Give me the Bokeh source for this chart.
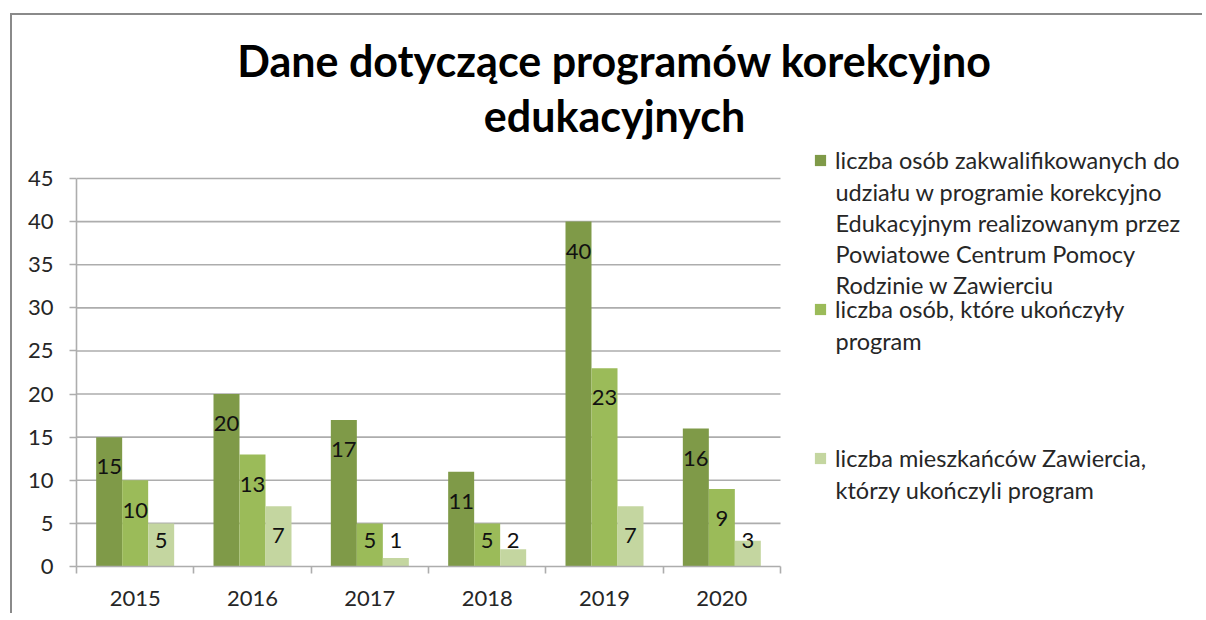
import numpy as np
from bokeh.plotting import figure
from bokeh.models import Range1d, FixedTicker, Label, Legend, LegendItem
from bokeh.embed import file_html
from bokeh.resources import INLINE
from bokeh.core.properties import value

# ---------------- data ----------------
years = ["2015", "2016", "2017", "2018", "2019", "2020"]
zakwalifikowani = [15, 20, 17, 11, 40, 16]
ukonczyli = [10, 13, 5, 5, 23, 9]
mieszkancy_ukonczyli = [5, 7, 1, 2, 7, 3]
y_ticks = [0, 5, 10, 15, 20, 25, 30, 35, 40, 45]
y_max = 45

title_lines = ["Dane dotyczące programów korekcyjno", "edukacyjnych"]
legend_lines = [
    ["liczba osób zakwalifikowanych do",
     "udziału w programie korekcyjno",
     "Edukacyjnym realizowanym przez",
     "Powiatowe Centrum Pomocy",
     "Rodzinie w Zawierciu"],
    ["liczba osób, które ukończyły",
     "program"],
    ["liczba mieszkańców Zawiercia,",
     "którzy ukończyli program"],
]

# ---------------- layout / style ----------------
FONT = "Lato"
colors = ["#7F9A48", "#9BBB59", "#C4D6A0"]
grid_color = "#ADADAD"
text_color = "#262626"
TICK_FS = "22px"
LEG_FS = "23.5px"

W, H = 1192, 600
LEFT, BOTTOM = 64, 49
frame_w, frame_h = W - LEFT, H - BOTTOM
plot_w, plot_h = 704, 388          # pixel size of the actual chart area
x_end = len(years) * frame_w / plot_w
y_end = y_max * frame_h / plot_h

p = figure(width=W, height=H, output_backend="svg", toolbar_location=None,
           x_range=Range1d(0, x_end), y_range=Range1d(0, y_end),
           min_border_left=LEFT, min_border_right=0,
           min_border_top=0, min_border_bottom=BOTTOM)
p.title.visible = False
p.styles = {"border-top": "2px solid #8a8a8a", "border-left": "2px solid #8a8a8a",
            "margin-left": "10px", "margin-top": "13px"}
p.outline_line_color = None
p.background_fill_color = "white"
p.border_fill_color = "white"
p.xgrid.visible = False
p.ygrid.visible = False

# horizontal grid lines limited to the chart area
p.segment(x0=[0] * (len(y_ticks) - 1), x1=[len(years)] * (len(y_ticks) - 1),
          y0=y_ticks[1:], y1=y_ticks[1:], line_color=grid_color, line_width=1.6)

# y axis
p.yaxis.bounds = (0, y_max)
p.yaxis.ticker = FixedTicker(ticks=y_ticks)
p.yaxis.axis_line_color = grid_color
p.yaxis.axis_line_width = 1.6
p.yaxis.major_tick_line_color = grid_color
p.yaxis.major_tick_line_width = 1.6
p.yaxis.major_tick_out = 7
p.yaxis.major_tick_in = 0
p.yaxis.minor_tick_line_color = None
p.yaxis.major_label_standoff = 16
p.yaxis.major_label_text_font = FONT
p.yaxis.major_label_text_font_size = TICK_FS
p.yaxis.major_label_text_color = text_color

# x axis: labels at category centres, ticks at category boundaries
centers = [i + 0.5 for i in range(len(years))]
bounds = list(range(len(years) + 1))
p.xaxis.bounds = (0, len(years))
p.xaxis.ticker = FixedTicker(ticks=centers, minor_ticks=bounds)
p.xaxis.major_label_overrides = {c: y for c, y in zip(centers, years)}
p.xaxis.axis_line_color = grid_color
p.xaxis.axis_line_width = 1.6
p.xaxis.major_tick_line_color = None
p.xaxis.major_tick_out = 0
p.xaxis.major_tick_in = 0
p.xaxis.minor_tick_line_color = grid_color
p.xaxis.minor_tick_line_width = 1.6
p.xaxis.minor_tick_out = 7
p.xaxis.minor_tick_in = 0
p.xaxis.major_label_standoff = 17
p.xaxis.major_label_text_font = FONT
p.xaxis.major_label_text_font_size = TICK_FS
p.xaxis.major_label_text_color = text_color

# bars + value labels
series = [zakwalifikowani, ukonczyli, mieszkancy_ukonczyli]
bw = 0.2216
renderers = []
for k, vals in enumerate(series):
    xs = np.array(centers) + (k - 1) * bw
    r = p.vbar(x=xs, top=vals, width=bw, fill_color=colors[k], line_color=None)
    renderers.append(r)
    vals_arr = np.array(vals, dtype=float)
    ys = np.maximum(vals_arr - 3.45, 3.0)
    p.text(x=xs, y=ys, text=[str(v) for v in vals], text_align="center",
           text_baseline="middle", text_font=value(FONT), text_font_size=TICK_FS,
           text_color="#111111")

# title (two lines), positions in px relative to the frame's bottom-left
title_y = [506, 451]
for line, ty in zip(title_lines, title_y):
    p.add_layout(Label(x=538, y=ty, x_units="screen", y_units="screen", text=line,
                       text_align="center", text_baseline="middle", text_font=FONT,
                       text_font_size="43px", text_font_style="bold",
                       text_color="#000000"))

# legend: squares + first lines
legend = Legend(items=[LegendItem(label=lines[0], renderers=[r])
                       for lines, r in zip(legend_lines, renderers)],
                location=(737, 93), orientation="vertical",
                glyph_width=14, glyph_height=14, label_standoff=8,
                label_height=30, spacing=119, padding=0, margin=0,
                border_line_color=None, background_fill_alpha=0,
                label_text_font=FONT, label_text_font_size=LEG_FS,
                label_text_color=text_color)
p.add_layout(legend)

# legend continuation lines
item_first_y = [406, 257, 108]
for lines, y0 in zip(legend_lines, item_first_y):
    for j, line in enumerate(lines[1:], start=1):
        p.add_layout(Label(x=759, y=y0 - 31 * j, x_units="screen", y_units="screen",
                           text=line, text_align="left", text_baseline="middle",
                           text_font=FONT, text_font_size=LEG_FS,
                           text_color=text_color))

open("out.html", "w").write(file_html(p, INLINE))
